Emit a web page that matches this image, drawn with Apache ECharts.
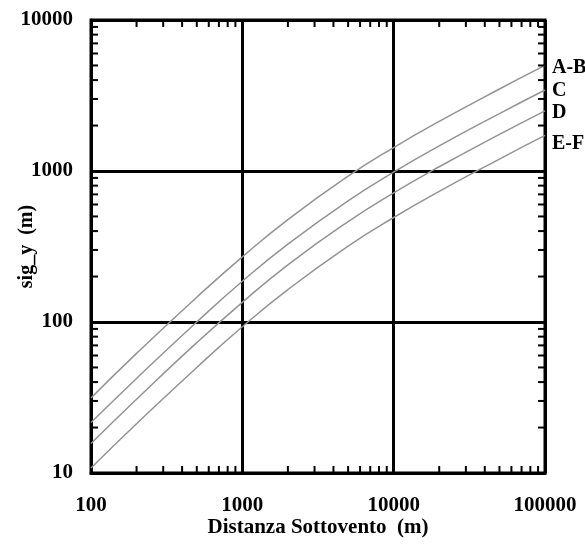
<!DOCTYPE html>
<html>
<head>
<meta charset="utf-8">
<script src="https://cdn.jsdelivr.net/npm/echarts@6/dist/echarts.min.js"></script>
<style>
  html, body { margin: 0; padding: 0; background: #fff; }
  #main { width: 585px; height: 548px; }
</style>
</head>
<body>
<div id="main"></div>
<script>
"use strict";
// distanza sottovento (m)
let distanze = [100, 200, 500, 1000, 2000, 5000, 10000, 20000, 50000, 100000];
// sig_y (m) per classe di stabilita
let sigAB = [31.4, 62, 146, 270, 477, 924, 1430, 2130, 3490, 5000];
let sigC = [21.6, 42.3, 100, 186, 328, 635, 984, 1467, 2400, 3440];
let sigD = [15.7, 30.8, 73, 135, 239, 462, 716, 1067, 1746, 2500];
let sigEF = [10.8, 21.2, 50, 93, 164, 318, 492, 733, 1200, 1720];
let classi = ['A-B', 'C', 'D', 'E-F'];
let labelShift = [2, 1, 2, 8];
// tacche secondarie
let ticksX = [200, 300, 400, 500, 600, 700, 800, 900,
              2000, 3000, 4000, 5000, 6000, 7000, 8000, 9000,
              20000, 30000, 40000, 50000, 60000, 70000, 80000, 90000];
let ticksY = [20, 30, 40, 50, 60, 70, 80, 90,
              200, 300, 400, 500, 600, 700, 800, 900,
              2000, 3000, 4000, 5000, 6000, 7000, 8000, 9000];

let font = '"Liberation Serif", "Times New Roman", serif';
let myChart = echarts.init(document.getElementById('main'));

function tickSeries(values, side) {
    let data = values.map(function (v) {
        if (side === 'bottom') return [v, 10];
        if (side === 'top') return [v, 10000];
        if (side === 'left') return [100, v];
        return [100000, v];
    });
    return {
        type: 'custom',
        data: data,
        silent: true,
        z: 5,
        renderItem: function (params, api) {
            let p = api.coord([api.value(0), api.value(1)]);
            let L = 7;
            let dx = 0, dy = 0;
            if (side === 'bottom') dy = -L;
            if (side === 'top') dy = L;
            if (side === 'left') dx = L;
            if (side === 'right') dx = -L;
            return {
                type: 'line',
                shape: { x1: p[0], y1: p[1], x2: p[0] + dx, y2: p[1] + dy },
                style: { stroke: '#000', lineWidth: 2 }
            };
        }
    };
}

function lineSeries(name, values, shift) {
    return {
        name: name,
        type: 'line',
        showSymbol: false,
        smooth: true,
        data: distanze.map(function (d, i) { return [d, values[i]]; }),
        lineStyle: { color: '#939393', width: 1.5 },
        itemStyle: { color: '#939393' },
        endLabel: {
            show: true,
            formatter: name,
            color: '#000',
            fontFamily: font,
            fontWeight: 'bold',
            fontSize: 20,
            offset: [-1, shift]
        },
        z: 3
    };
}

let series = [
    lineSeries(classi[0], sigAB, labelShift[0]),
    lineSeries(classi[1], sigC, labelShift[1]),
    lineSeries(classi[2], sigD, labelShift[2]),
    lineSeries(classi[3], sigEF, labelShift[3]),
    tickSeries(ticksX, 'bottom'),
    tickSeries(ticksX, 'top'),
    tickSeries(ticksY, 'left'),
    tickSeries(ticksY, 'right')
];

function plain(v) { return String(Math.round(v)); }

let option = {
    animation: false,
    backgroundColor: '#fff',
    grid: {
        left: 91,
        right: 40,
        top: 20,
        bottom: 75,
        outerBoundsMode: 'none',
        show: true,
        borderColor: '#000',
        borderWidth: 3
    },
    xAxis: {
        type: 'log',
        logBase: 10,
        min: 100,
        max: 100000,
        name: 'Distanza Sottovento  (m)',
        nameLocation: 'middle',
        nameGap: 44,
        nameMoveOverlap: false,
        nameTextStyle: { color: '#000', fontFamily: font, fontWeight: 'bold', fontSize: 21 },
        axisLine: { show: true, lineStyle: { color: '#000', width: 3 } },
        axisTick: { show: false },
        axisLabel: { color: '#000', fontFamily: font, fontWeight: 'bold', fontSize: 21, margin: 22, formatter: plain },
        splitLine: { show: true, lineStyle: { color: '#000', width: 3 } }
    },
    yAxis: {
        type: 'log',
        logBase: 10,
        min: 10,
        max: 10000,
        name: 'sig_y  (m)',
        nameLocation: 'middle',
        nameGap: 54,
        nameMoveOverlap: false,
        nameTextStyle: { color: '#000', fontFamily: font, fontWeight: 'bold', fontSize: 20 },
        axisLine: { show: true, lineStyle: { color: '#000', width: 3 } },
        axisTick: { show: false },
        axisLabel: { color: '#000', fontFamily: font, fontWeight: 'bold', fontSize: 21, margin: 18, formatter: plain },
        splitLine: { show: true, lineStyle: { color: '#000', width: 3 } }
    },
    series: series
};
myChart.setOption(option);
</script>
</body>
</html>
